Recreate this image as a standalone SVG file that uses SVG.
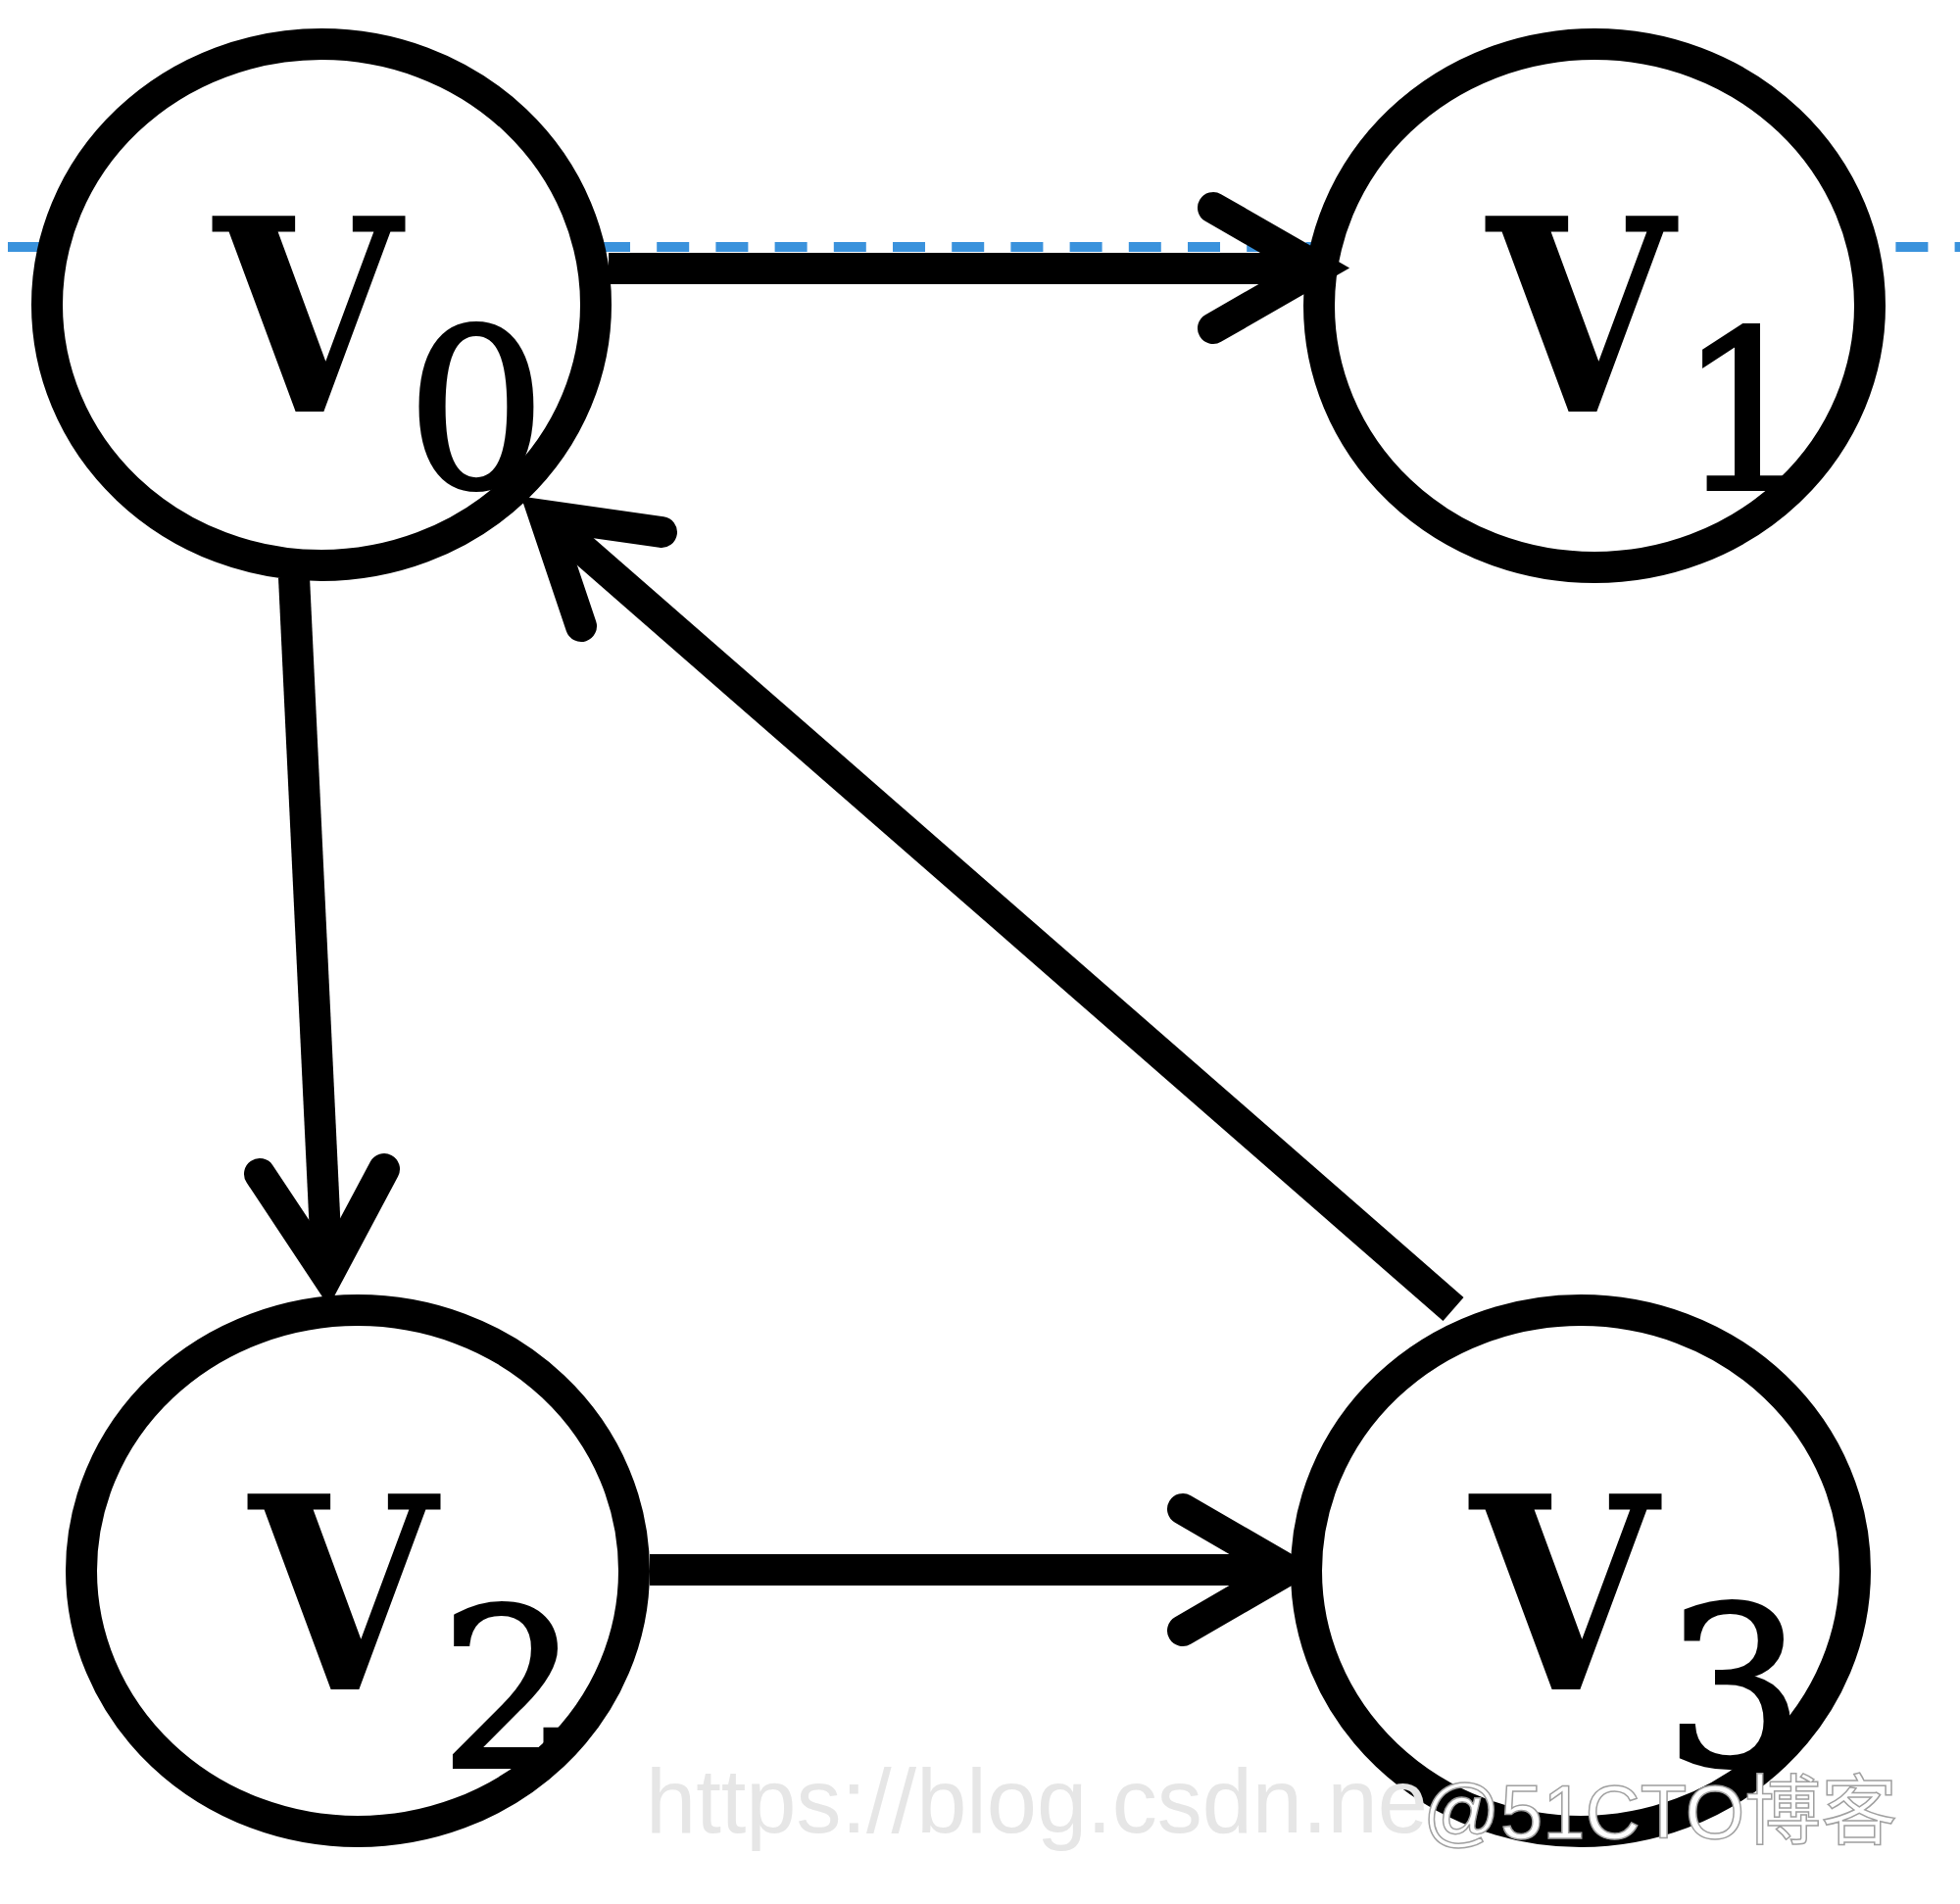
<svg xmlns="http://www.w3.org/2000/svg" width="2000" height="1943" viewBox="0 0 2000 1943">
<style>
.node{fill:#fff;stroke:#000;stroke-width:32}
.v{font-family:"DejaVu Serif","Liberation Serif",serif;font-weight:bold;font-size:274px;fill:#000;text-anchor:middle}
.sub{font-family:"DejaVu Serif","Liberation Serif",serif;font-size:224px;fill:#000;stroke:#000;stroke-width:4;text-anchor:middle}
.edge{fill:none;stroke:#000;stroke-width:32;stroke-linecap:butt}
.head{fill:none;stroke:#000;stroke-width:32;stroke-linecap:round;stroke-linejoin:miter;stroke-miterlimit:10}
.guide{stroke:#3a92dc;stroke-width:10;stroke-dasharray:33 27.2;stroke-dashoffset:52.2}
.wm1{font-family:"Liberation Sans",Arial,sans-serif;font-size:92px;fill:#e6e6e6}
.wm2{font-family:"Liberation Sans","Noto Sans CJK SC",sans-serif;font-size:78px;fill:#fff;stroke:#a0a0a0;stroke-width:1.5}
</style>
<rect width="2000" height="1943" fill="#fff"/>
<line class="guide" x1="0" y1="252" x2="2000" y2="252"/>
<g id="V0">
<ellipse class="node" cx="328" cy="311" rx="280" ry="266"/>
<text class="v" x="314" y="420" textLength="192" lengthAdjust="spacingAndGlyphs">V</text>
<text class="sub" x="486" y="497">0</text>
</g>
<g id="V1">
<ellipse class="node" cx="1627" cy="312" rx="281" ry="267"/>
<text class="v" x="1613" y="420" textLength="192" lengthAdjust="spacingAndGlyphs">V</text>
<text class="sub" x="1783" y="499">1</text>
</g>
<g id="V2">
<ellipse class="node" cx="365" cy="1603" rx="282" ry="266"/>
<text class="v" x="350" y="1724" textLength="192" lengthAdjust="spacingAndGlyphs">V</text>
<text class="sub" x="520" y="1803">2</text>
</g>
<g id="V3">
<ellipse class="node" cx="1613" cy="1603" rx="280" ry="266"/>
<text class="v" x="1596" y="1724" textLength="192" lengthAdjust="spacingAndGlyphs">V</text>
<text class="sub" x="1770" y="1801">3</text>
</g>
<g id="connectors">
<line class="edge" x1="621" y1="274" x2="1345" y2="274"/>
<path class="head" d="M1238,212 L1345,273.5 L1238,335"/>
<line class="edge" x1="300" y1="589" x2="334" y2="1302"/>
<path class="head" d="M265,1198 L334,1302 L392,1193"/>
<line class="edge" x1="1483" y1="1336" x2="555" y2="526"/>
<path class="head" d="M675,543 L555,526 L593,639"/>
<line class="edge" x1="663" y1="1602" x2="1314" y2="1602"/>
<path class="head" d="M1207,1540 L1314,1602 L1207,1664"/>
</g>
<g id="watermark">
<text class="wm1" x="659" y="1870">https://blog.csdn.ne</text>
<text class="wm2" x="1452" y="1876" textLength="484" lengthAdjust="spacingAndGlyphs">@51CTO博客</text>
</g>
</svg>
